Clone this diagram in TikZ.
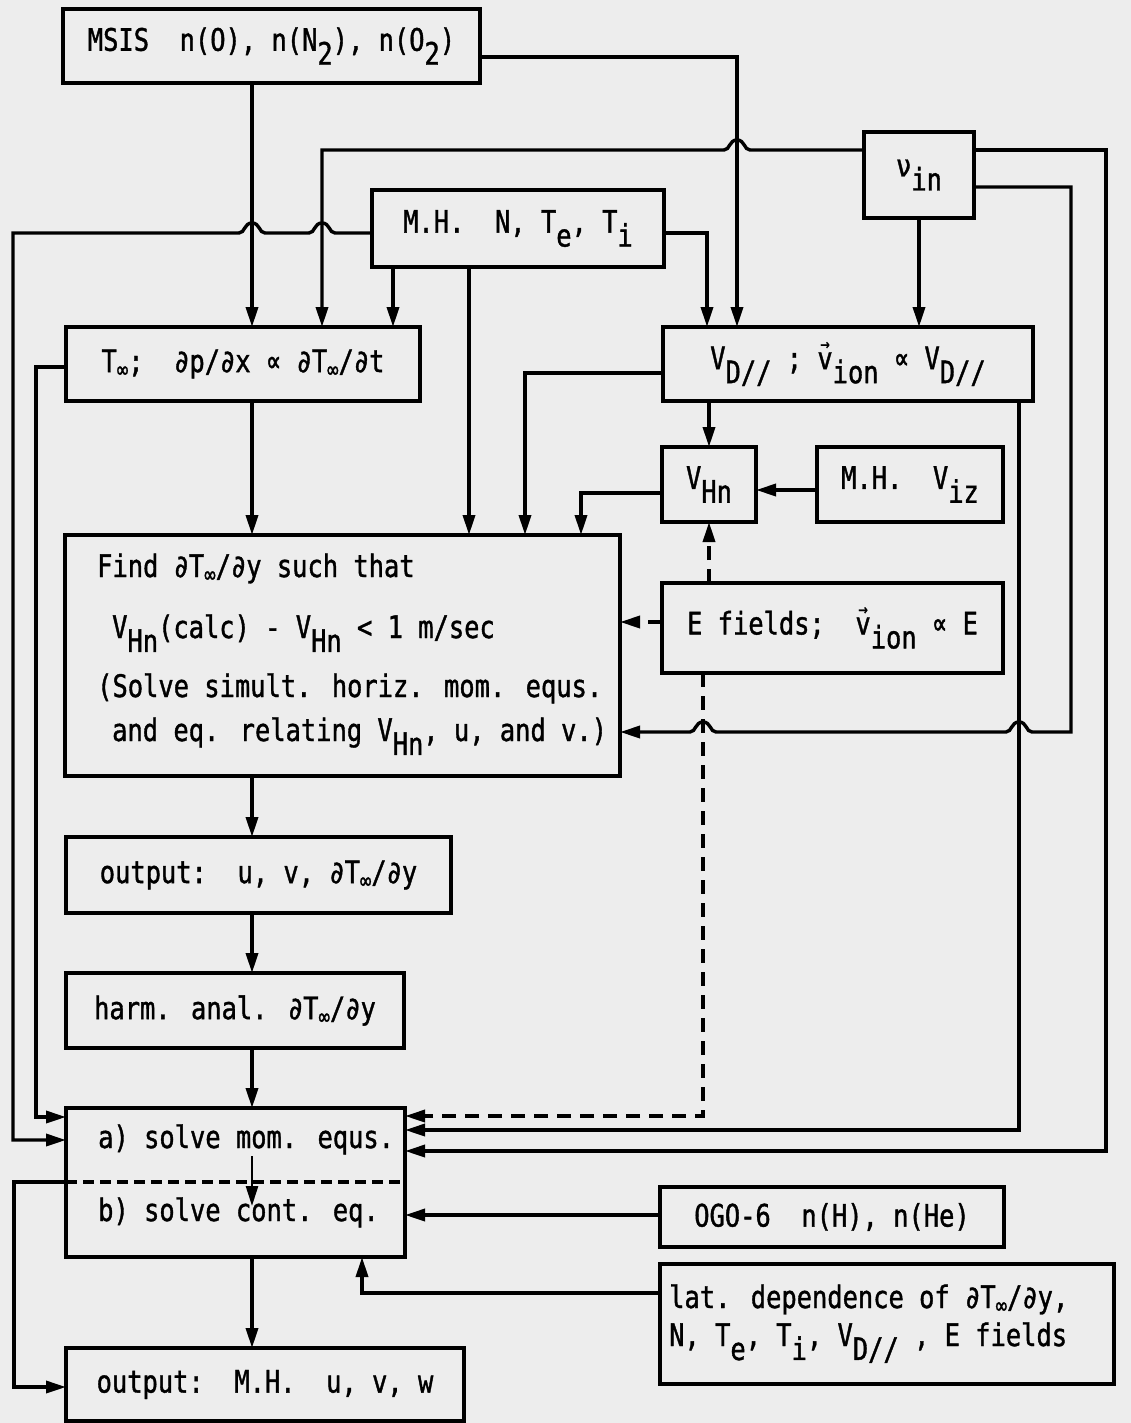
\documentclass[tikz,border=0pt]{standalone}
\usepackage{fontspec}
\newfontfamily\tw{DejaVu Sans Mono}[FakeStretch=0.82,FakeBold=1.2]
\usetikzlibrary{arrows.meta}
\newcommand\dn[1]{\raisebox{-0.45em}{#1}}
\newcommand\Tinf{T\raisebox{-0.18em}{\fontsize{23}{23}\selectfont ∞}}
\newcommand\vecv{\leavevmode\vbox{\offinterlineskip\halign{\hfil##\hfil\cr{\fontsize{19}{19}\selectfont →}\cr\noalign{\kern 2pt}v\cr}}}
\newcommand\bx[6]{\node[box,minimum width={(#4)-(#2)},minimum height={(#5)-(#3)}] (#1) at ({((#2)+(#4))/2},{((#3)+(#5))/2}) {#6};}
\begin{document}
\begin{tikzpicture}[x=1pt,y=-1pt,
 box/.style={draw,line width=4pt,inner sep=0pt,outer sep=0pt,align=center,font=\tw\fontsize{31}{36}\selectfont},
 txt/.style={inner sep=0pt,anchor=base west,font=\tw\fontsize{31}{36}\selectfont},
 arr/.style={line width=3.4pt,-{Triangle[length=20pt,width=12pt]}},
 dsh/.style={arr,dash pattern=on 14pt off 9pt}]
\fill[black!7] (0,0) rectangle (1131,1423);
\useasboundingbox (0,0) rectangle (1131,1423);

\bx{msis}{63}{9}{480}{83}{MSIS\ \ n(O), n(N\dn{2}), n(O\dn{2})}
\bx{nu}{864}{132}{974}{218}{ν\dn{in}}
\bx{mh}{372}{190}{664}{267}{M.H.\ \ N, T\dn{e}, T\dn{i}}
\bx{tinf}{66}{327}{420}{401}{\Tinf;\ \ ∂p/∂x ∝ ∂\Tinf/∂t}
\bx{vd}{663}{327}{1033}{401}{V\dn{D//} ; \vecv\dn{ion} ∝ V\dn{D//}}
\bx{vhn}{662}{447}{756}{522}{V\dn{Hn}}
\bx{viz}{817}{447}{1003}{522}{M.H.\ \ V\dn{iz}}
\bx{find}{65}{535}{620}{776}{}
\bx{ef}{662}{583}{1003}{673}{E fields;\ \ \vecv\dn{ion} ∝ E}
\bx{outa}{66}{837}{451}{913}{output:\ \ u, v, ∂\Tinf/∂y}
\bx{harm}{66}{973}{404}{1048}{harm. anal. ∂\Tinf/∂y}
\bx{ab}{66}{1108}{405}{1257}{}
\bx{ogo}{660}{1187}{1004}{1247}{OGO-6\ \ n(H), n(He)}
\bx{lat}{660}{1264}{1114}{1384}{}
\bx{outb}{66}{1348}{464}{1421}{output:\ \ M.H.\ \ u, v, w}

\node[txt] (f1) at (97,577) {Find ∂\Tinf/∂y such that};
\node[txt] (f2) at (112,638) {V\dn{Hn}(calc) - V\dn{Hn} < 1 m/sec};
\node[txt] (f3) at (97,697) {(Solve simult. horiz. mom. equs.};
\node[txt] (f4) at (112,741) {and eq. relating V\dn{Hn}, u, and v.)};
\node[txt] (ta) at (98,1148) {a) solve mom. equs.};
\node[txt] (tb) at (98,1221) {b) solve cont. eq.};
\node[txt] (l1) at (669,1308) {lat. dependence of ∂\Tinf/∂y,};
\node[txt] (l2) at (669,1346) {N, T\dn{e}, T\dn{i}, V\dn{D//} , E fields};

\draw[line width=3.2pt,dash pattern=on 11pt off 6pt] (ab.west |- 0,1182) -- (ab.east |- 0,1182);

\draw[arr] (msis.south -| 252,0) -- (tinf.north -| 252,0);
\draw[arr] (msis.east |- 0,57) -| (vd.north -| 737,0);
\draw[arr] (nu.west |- 0,150) -- (750,150) .. controls (744,150) and (745,140) .. (737,140) .. controls (729,140) and (730,150) .. (724,150) -- (322,150) -- (tinf.north -| 322,0);
\draw[arr] (nu.east |- 0,150) -- (1106,150) |- (ab.east |- 0,1151);
\draw[arr] (nu.east |- 0,187) -- (1071,187) -- (1071,732) -- (1032,732) .. controls (1026,732) and (1027,722) .. (1019,722) .. controls (1011,722) and (1012,732) .. (1006,732) -- (716,732) .. controls (710,732) and (711,722) .. (703,722) .. controls (695,722) and (696,732) .. (690,732) -- (find.east |- 0,732);
\draw[arr] (nu.south) -- (vd.north -| nu.south);
\draw[arr] (mh.west |- 0,233) -- (335,233) .. controls (329,233) and (330,223) .. (322,223) .. controls (314,223) and (315,233) .. (309,233) -- (265,233) .. controls (259,233) and (260,223) .. (252,223) .. controls (244,223) and (245,233) .. (239,233) -- (13,233) |- (ab.west |- 0,1140);
\draw[arr] (mh.east |- 0,233) -| (vd.north -| 707,0);
\draw[arr] (mh.south -| 393,0) -- (tinf.north -| 393,0);
\draw[arr] (mh.south -| 469,0) -- (find.north -| 469,0);
\draw[arr] (tinf.west |- 0,367) -- (36,367) |- (ab.west |- 0,1117);
\draw[arr] (tinf.south -| 252,0) -- (find.north -| 252,0);
\draw[arr] (vd.west |- 0,373) -| (find.north -| 525,0);
\draw[arr] (vd.south -| vhn.north) -- (vhn.north);
\draw[arr] (vd.south -| 1019,0) |- (ab.east |- 0,1130);
\draw[arr] (viz.west |- 0,490) -- (vhn.east |- 0,490);
\draw[arr] (vhn.west |- 0,493) -| (find.north -| 581,0);
\draw[dsh] (ef.north -| vhn.south) -- (vhn.south);
\draw[dsh] (ef.west |- 0,622) -- (find.east |- 0,622);
\draw[dsh] (ef.south -| 703,0) |- (ab.east |- 0,1116);
\draw[arr] (find.south -| 252,0) -- (outa.north -| 252,0);
\draw[arr] (outa.south -| 252,0) -- (harm.north -| 252,0);
\draw[arr] (harm.south -| 252,0) -- (ab.north -| 252,0);
\coordinate (abA) at (252,1156);
\coordinate (abB) at (252,1206);
\draw[arr,line width=2.6pt] (abA) -- (abB);
\draw[arr] (ab.south -| 252,0) -- (outb.north -| 252,0);
\draw[arr] (ab.west |- 0,1182) -- (14,1182) |- (outb.west |- 0,1387);
\draw[arr] (ogo.west |- 0,1215) -- (ab.east |- 0,1215);
\draw[arr] (lat.west |- 0,1293) -| (ab.south -| 362,0);
\end{tikzpicture}
\end{document}
